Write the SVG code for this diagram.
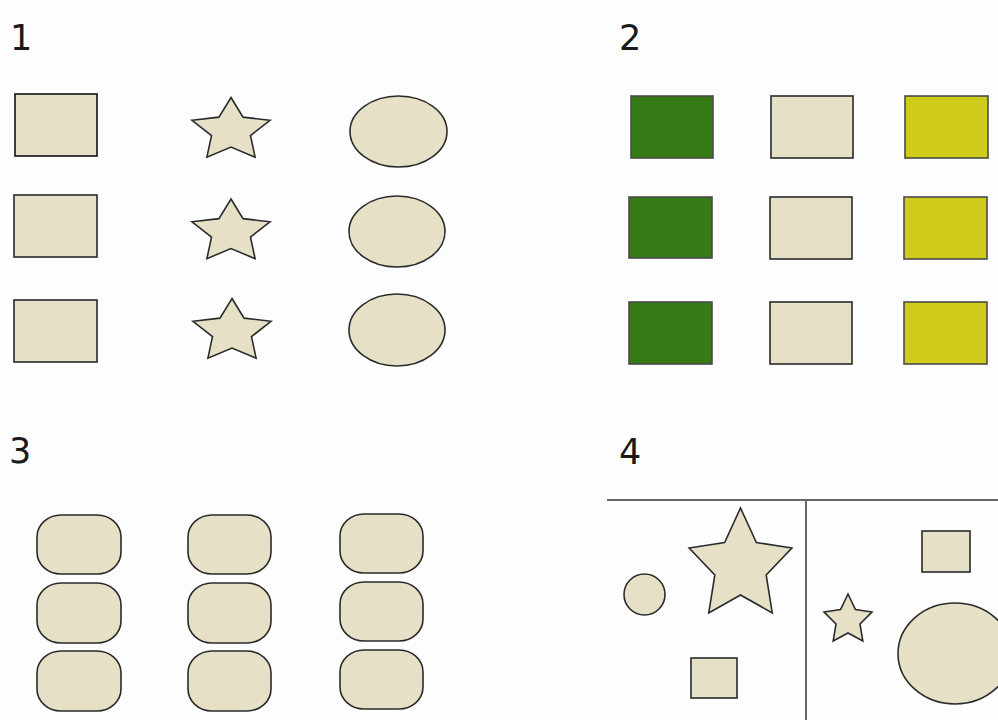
<svg xmlns="http://www.w3.org/2000/svg" xmlns:xlink="http://www.w3.org/1999/xlink" width="998" height="720" viewBox="0 0 998 720">
<style>
.lbl{font-family:"DejaVu Sans","Liberation Sans",sans-serif;font-size:35px;fill:#1a1a1a}
.sh{fill:#e6e1c6;stroke:#2a2a2a;stroke-width:1.6}
.gr{fill:#367a16;stroke:#4a4a4a;stroke-width:1.6}
.ye{fill:#d0cc1c;stroke:#4a4a4a;stroke-width:1.6}
.div{stroke:#666;stroke-width:2;fill:none}
</style>
<defs>
<path id="star" vector-effect="non-scaling-stroke" d="M0,-1 L0.2939,-0.4045 L0.9511,-0.309 L0.4755,0.1545 L0.5878,0.809 L0,0.5 L-0.5878,0.809 L-0.4755,0.1545 L-0.9511,-0.309 L-0.2939,-0.4045 Z"/>
</defs>
<rect width="998" height="720" fill="#fdfdfd"/>
<g id="panel1">
<text class="lbl" x="10" y="50">1</text>
<rect id="p1-r1" class="sh" x="15" y="94" width="82" height="62" style="stroke:#111"/>
<rect id="p1-r2" class="sh" x="14" y="195" width="83" height="62"/>
<rect id="p1-r3" class="sh" x="14" y="300" width="83" height="62"/>
<use id="p1-s1" xlink:href="#star" class="sh" transform="translate(231,130.5) scale(41,33)"/>
<use id="p1-s2" xlink:href="#star" class="sh" transform="translate(231,232) scale(41,33)"/>
<use id="p1-s3" xlink:href="#star" class="sh" transform="translate(232,331.5) scale(41,33)"/>
<ellipse id="p1-e1" class="sh" cx="398.5" cy="131.5" rx="48.5" ry="35.5"/>
<ellipse id="p1-e2" class="sh" cx="397" cy="231.5" rx="48" ry="35.5"/>
<ellipse id="p1-e3" class="sh" cx="397" cy="330" rx="48" ry="36"/>
</g>
<g id="panel2">
<text class="lbl" x="619" y="50">2</text>
<rect id="p2-g1" class="gr" x="631" y="96" width="82" height="62"/>
<rect id="p2-g2" class="gr" x="629" y="197" width="83" height="61"/>
<rect id="p2-g3" class="gr" x="629" y="302" width="83" height="62"/>
<rect id="p2-b1" class="sh" x="771" y="96" width="82" height="62"/>
<rect id="p2-b2" class="sh" x="770" y="197" width="82" height="62"/>
<rect id="p2-b3" class="sh" x="770" y="302" width="82" height="62"/>
<rect id="p2-y1" class="ye" x="905" y="96" width="83" height="62"/>
<rect id="p2-y2" class="ye" x="904" y="197" width="83" height="62"/>
<rect id="p2-y3" class="ye" x="904" y="302" width="83" height="62"/>
</g>
<g id="panel3">
<text class="lbl" x="9" y="463">3</text>
<rect id="p3-a1" class="sh" x="37" y="515" width="84" height="59" rx="24" ry="22"/>
<rect id="p3-a2" class="sh" x="37" y="583" width="84" height="60" rx="24" ry="22"/>
<rect id="p3-a3" class="sh" x="37" y="651" width="84" height="60" rx="24" ry="22"/>
<rect id="p3-b1" class="sh" x="188" y="515" width="83" height="59" rx="24" ry="22"/>
<rect id="p3-b2" class="sh" x="188" y="583" width="83" height="60" rx="24" ry="22"/>
<rect id="p3-b3" class="sh" x="188" y="651" width="83" height="60" rx="24" ry="22"/>
<rect id="p3-c1" class="sh" x="340" y="514" width="83" height="59" rx="24" ry="22"/>
<rect id="p3-c2" class="sh" x="340" y="582" width="83" height="59" rx="24" ry="22"/>
<rect id="p3-c3" class="sh" x="340" y="650" width="83" height="59" rx="24" ry="22"/>
</g>
<g id="panel4">
<text class="lbl" x="619" y="464">4</text>
<g id="dividers">
<line class="div" x1="607" y1="500" x2="998" y2="500"/>
<line class="div" x1="806" y1="500" x2="806" y2="720"/>
</g>
<circle id="p4-circle" class="sh" cx="644.5" cy="594.5" r="20.5"/>
<use id="p4-bigstar" xlink:href="#star" class="sh" transform="translate(740.5,566) scale(54,58)"/>
<rect id="p4-rect1" class="sh" x="691" y="658" width="46" height="40"/>
<rect id="p4-rect2" class="sh" x="922" y="531" width="48" height="41"/>
<use id="p4-smallstar" xlink:href="#star" class="sh" transform="translate(848,620) scale(25.2,26)"/>
<ellipse id="p4-ellipse" class="sh" cx="955" cy="653.5" rx="57" ry="50.5"/>
</g>
</svg>
